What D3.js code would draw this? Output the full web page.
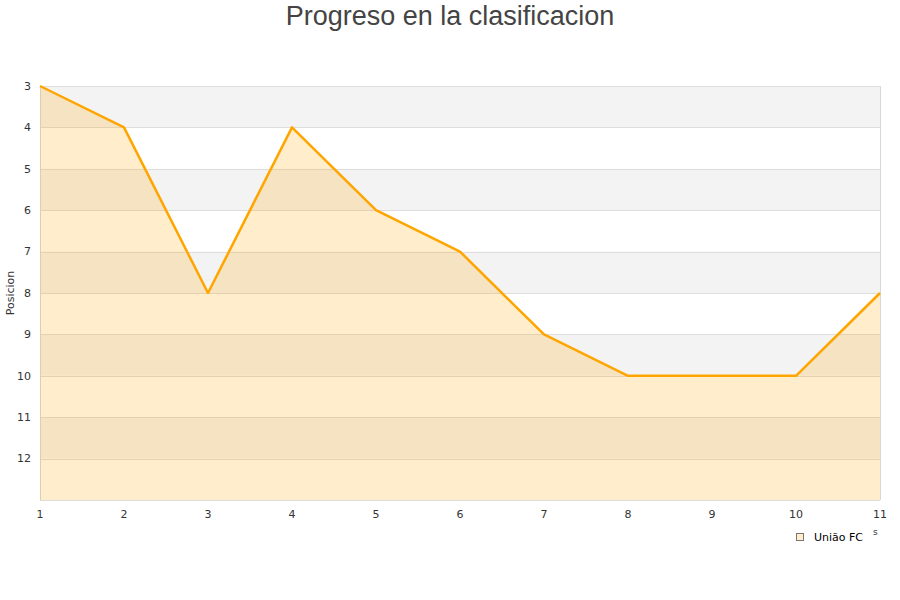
<!DOCTYPE html>
<html>
<head>
<meta charset="utf-8">
<script src="https://cdn.jsdelivr.net/npm/d3@7"></script>
<style>
body{margin:0;background:#fff;}
svg{display:block;}
</style>
</head>
<body>
<svg id="chart" width="900" height="600"></svg>
<script>
const rounds = [1,2,3,4,5,6,7,8,9,10,11];
const positions = [3,4,8,4,6,7,9,10,10,10,8];
const yTicks = [3,4,5,6,7,8,9,10,11,12];
const seriesName = "União FC";
const titleText = "Progreso en la clasificacion";
const yTitle = "Posicion";

(function(){
const svg = d3.select("#chart");
const pL = 40, pR = 880, pT = 86, pB = 500;

const x = d3.scaleLinear().domain([1,11]).range([pL,pR]);
const y = d3.scaleLinear().domain([3,13]).range([pT,pB]);

// bands
const bands = d3.range(3,13);
svg.append("g").selectAll("rect").data(bands).join("rect")
  .attr("x", pL).attr("width", pR-pL)
  .attr("y", d=>y(d)).attr("height", d=>y(d+1)-y(d))
  .attr("fill", d=> (d-3)%2===0 ? "#f3f3f3" : "#ffffff");

// grid lines
svg.append("g").selectAll("line").data(d3.range(3,14)).join("line")
  .attr("x1", pL).attr("x2", pR)
  .attr("y1", d=>Math.round(y(d))+0.5).attr("y2", d=>Math.round(y(d))+0.5)
  .attr("stroke", "#dddddd").attr("stroke-width",1);

// border
svg.append("line").attr("x1",pL+0.5).attr("x2",pL+0.5).attr("y1",pT).attr("y2",pB).attr("stroke","#d8d8d8");
svg.append("line").attr("x1",pR+0.5).attr("x2",pR+0.5).attr("y1",pT).attr("y2",pB).attr("stroke","#d8d8d8");

const data = rounds.map((r,i)=>({r, p:positions[i]}));

svg.append("path").datum(data)
  .attr("d", d3.area().x(d=>x(d.r)).y0(pB).y1(d=>y(d.p)))
  .attr("fill", "rgb(255,165,0)").attr("fill-opacity", 0.2);

svg.append("path").datum(data)
  .attr("d", d3.line().x(d=>x(d.r)).y(d=>y(d.p)))
  .attr("fill","none").attr("stroke","#ffa500").attr("stroke-width",2.5)
  .attr("stroke-linejoin","round");

// y ticks
svg.append("g").selectAll("text").data(yTicks).join("text")
  .attr("x", 31).attr("y", d=>y(d)).attr("dy","0.35em")
  .attr("text-anchor","end")
  .attr("font-family","DejaVu Sans, sans-serif").attr("font-size",11).attr("fill","#333")
  .text(d=>d);

// x ticks
svg.append("g").selectAll("text").data(rounds).join("text")
  .attr("x", d=>x(d)).attr("y", 514).attr("dy","0.35em")
  .attr("text-anchor","middle")
  .attr("font-family","DejaVu Sans, sans-serif").attr("font-size",11).attr("fill","#333")
  .text(d=>d);

// title
svg.append("text").attr("x",450).attr("y",25)
  .attr("text-anchor","middle")
  .attr("font-family","Liberation Sans, Arial, sans-serif").attr("font-size",27).attr("fill","#444")
  .text(titleText);

// y title
svg.append("text")
  .attr("transform","translate(14,293) rotate(-90)")
  .attr("text-anchor","middle")
  .attr("font-family","DejaVu Sans, sans-serif").attr("font-size",11).attr("fill","#333")
  .text(yTitle);

// legend
svg.append("rect").attr("x",796.5).attr("y",533.5).attr("width",7).attr("height",7)
  .attr("fill","#ffedcc").attr("stroke","#777").attr("stroke-width",1);
svg.append("text").attr("x",814).attr("y",537).attr("dy","0.35em")
  .attr("font-family","DejaVu Sans, sans-serif").attr("font-size",11).attr("fill","#000")
  .text(seriesName);
svg.append("text").attr("x",873).attr("y",532).attr("dy","0.35em")
  .attr("font-family","DejaVu Sans, sans-serif").attr("font-size",9).attr("fill","#333")
  .text("s");
})();
</script>
</body>
</html>
